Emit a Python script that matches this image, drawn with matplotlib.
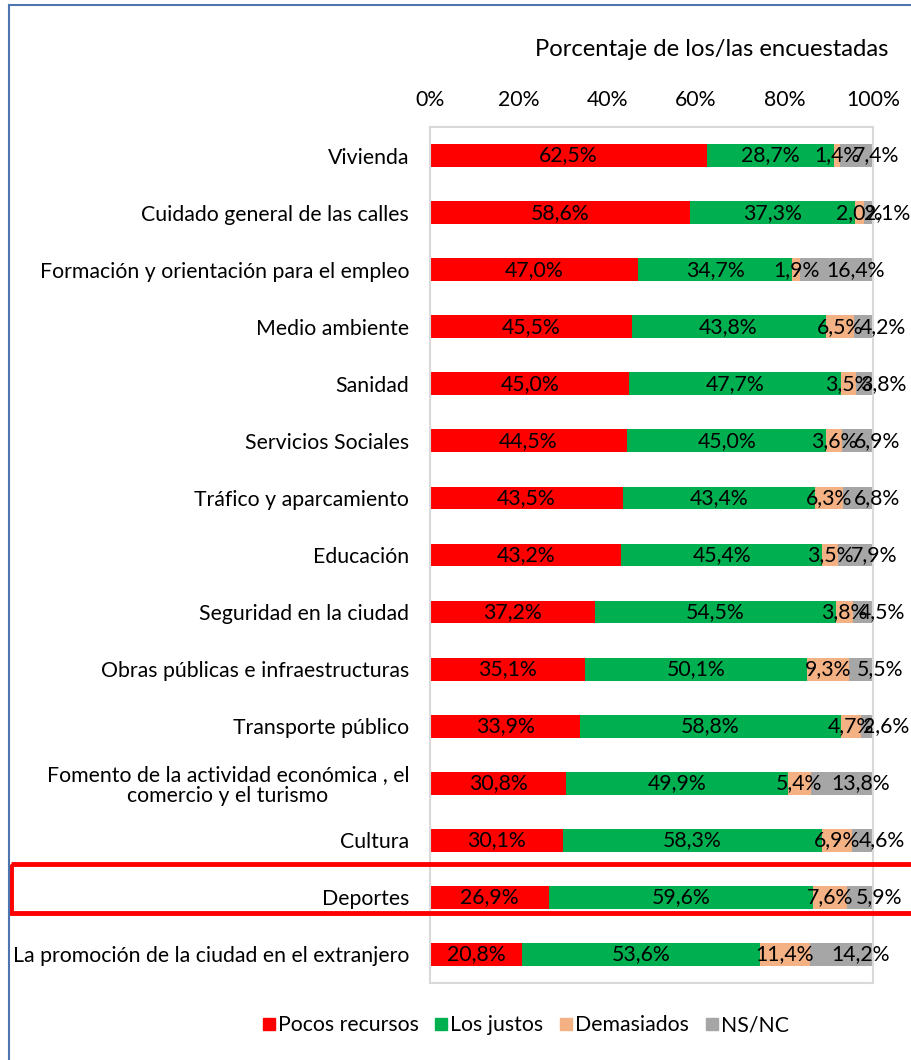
import matplotlib
matplotlib.use("Agg")
import matplotlib.pyplot as plt
import numpy as np
from matplotlib.patches import Rectangle
from matplotlib.lines import Line2D

plt.rcParams['font.family'] = ['Lato', 'DejaVu Sans']

categories = [
    "Vivienda",
    "Cuidado general de las calles",
    "Formación y orientación para el empleo",
    "Medio ambiente",
    "Sanidad",
    "Servicios Sociales",
    "Tráfico y aparcamiento",
    "Educación",
    "Seguridad en la ciudad",
    "Obras públicas e infraestructuras",
    "Transporte público",
    "Fomento de la actividad económica , el\ncomercio y el turismo",
    "Cultura",
    "Deportes",
    "La promoción de la ciudad en el extranjero",
]
pocos = [62.5, 58.6, 47.0, 45.5, 45.0, 44.5, 43.5, 43.2, 37.2, 35.1, 33.9, 30.8, 30.1, 26.9, 20.8]
justos = [28.7, 37.3, 34.7, 43.8, 47.7, 45.0, 43.4, 45.4, 54.5, 50.1, 58.8, 49.9, 58.3, 59.6, 53.6]
demasiados = [1.4, 2.0, 1.9, 6.5, 3.5, 3.6, 6.3, 3.5, 3.8, 9.3, 4.7, 5.4, 6.9, 7.6, 11.4]
nsnc = [7.4, 2.1, 16.4, 4.2, 3.8, 6.9, 6.8, 7.9, 4.5, 5.5, 2.6, 13.8, 4.6, 5.9, 14.2]
series_names = ["Pocos recursos", "Los justos", "Demasiados", "NS/NC"]
xticks = [0, 20, 40, 60, 80, 100]
highlight = "Deportes"

colors = ["#ff0000", "#00b050", "#f4b183", "#a6a6a6"]
label_shift = [0.0, 0.0, 0.0, 4.3]

W, H = 911, 1060
fig = plt.figure(figsize=(W / 100, H / 100), dpi=100)
ax = fig.add_axes([430 / W, 1 - 983 / H, 443 / W, 856 / H])

y = np.arange(len(categories))
left = np.zeros(len(categories))
fs = 15.3
for vals, col, name, sh in zip([pocos, justos, demasiados, nsnc], colors, series_names, label_shift):
    vals = np.array(vals)
    ax.barh(y, vals, left=left, height=0.4, color=col, label=name)
    for yi, l, v in zip(y, left, vals):
        ax.text(l + v / 2 + sh, yi, f"{v:.1f}%".replace(".", ","), ha="center", va="center",
                fontsize=fs, color="black", clip_on=False)
    left = left + vals

ax.set_xlim(0, 100)
ax.set_ylim(len(categories) - 0.5, -0.5)
ax.set_yticks(y)
ax.set_yticklabels(categories, fontsize=fs, linespacing=1.05)
for t in ax.get_yticklabels():
    t.set_multialignment("center")
ax.set_xticks(xticks)
ax.set_xticklabels([f"{v}%" for v in xticks], fontsize=fs)
ax.xaxis.tick_top()
ax.tick_params(axis="x", length=0, pad=12)
ax.tick_params(axis="y", length=0, pad=15)
for s in ax.spines.values():
    s.set_color("#d9d9d9")
    s.set_linewidth(1.5)

fig.text(712 / W, 1 - 49 / H, "Porcentaje de los/las encuestadas", ha="center", va="center", fontsize=17.2)

# legend
handles = [Line2D([], [], marker="s", linestyle="none", markersize=9, markerfacecolor=c, markeredgecolor=c) for c in colors]
fig.legend(handles, series_names, loc="center", bbox_to_anchor=(526 / W, 1 - 1025 / H), ncol=4,
           frameon=False, fontsize=fs, handlelength=0.55, handletextpad=0.15, columnspacing=0.8)

# highlight rectangle around the selected category
hi = categories.index(highlight)
trans = matplotlib.transforms.blended_transform_factory(fig.transFigure, ax.transData)
rect = Rectangle((10.5 / W, hi - 0.58), 1.0, 0.86, transform=trans, fill=False,
                 edgecolor="#ff0000", linewidth=3.5, clip_on=False)
fig.add_artist(rect)

# outer border (top and left)
fig.add_artist(Line2D([9 / W, 9 / W], [0, 1 - 5 / H], transform=fig.transFigure, color="#4f75b0", linewidth=1.5))
fig.add_artist(Line2D([9 / W, 1], [1 - 5 / H, 1 - 5 / H], transform=fig.transFigure, color="#4f75b0", linewidth=1.5))

fig.savefig("out.png", dpi=100)
